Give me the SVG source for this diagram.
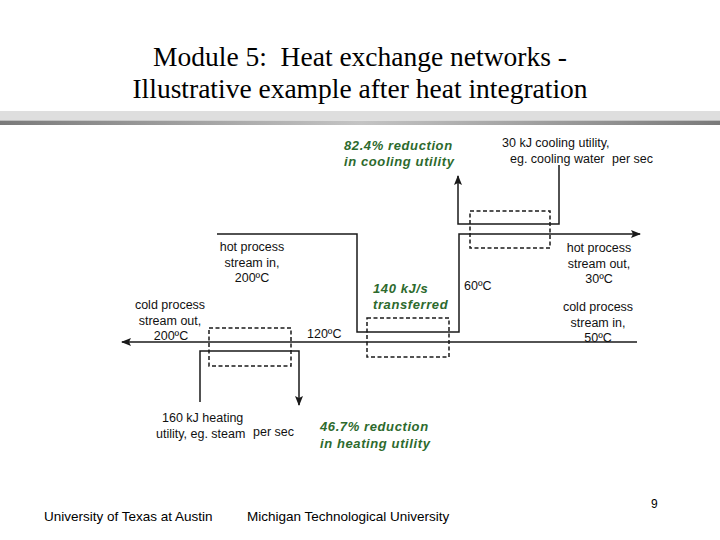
<svg xmlns="http://www.w3.org/2000/svg" width="720" height="540" viewBox="0 0 720 540">
<defs>
<linearGradient id="dk" x1="0" x2="1" y1="0" y2="0">
<stop offset="0" stop-color="#7a7a7a"/><stop offset="0.5" stop-color="#c4c4c4"/><stop offset="1" stop-color="#7a7a7a"/>
</linearGradient>
<marker id="ah" markerWidth="10" markerHeight="8" refX="9" refY="4" orient="auto" markerUnits="userSpaceOnUse">
<path d="M0,0 L10,4 L0,8 L2,4 Z" fill="#1a1a1a"/>
</marker>
</defs>
<style>
.title{font-family:"Liberation Serif","Times New Roman",serif;font-size:27.5px;fill:#000;text-anchor:middle}
.lbl{font-family:"Liberation Sans",Arial,sans-serif;font-size:12.5px;fill:#111}
.c{text-anchor:middle}
.grn{font-family:"Liberation Sans",Arial,sans-serif;font-size:13px;font-weight:bold;font-style:italic;fill:#2d6a2d;letter-spacing:0.6px}
.foot{font-family:"Liberation Sans",Arial,sans-serif;font-size:13.5px;fill:#000}
.ln{fill:none;stroke:#1a1a1a;stroke-width:1.5}
.dash{fill:none;stroke:#1a1a1a;stroke-width:1.5;stroke-dasharray:4,2.5}
</style>
<rect width="720" height="540" fill="#fff"/>
<g id="title">
<text class="title" x="360" y="66">Module 5:&#160; Heat exchange networks -</text>
<text class="title" x="360" y="98">Illustrative example after heat integration</text>
</g>
<g id="header-bars">
<rect x="0" y="111" width="720" height="9" fill="#dedede"/>
<rect x="0" y="120.5" width="720" height="4.5" fill="url(#dk)"/>
</g>
<g id="connectors">
<path class="ln" d="M217,234 H357 V332 H459 V234 H640" marker-end="url(#ah)"/>
<path class="ln" d="M637,342 H122" marker-end="url(#ah)"/>
<path class="ln" d="M559,165 V224 H458 V176" marker-end="url(#ah)"/>
<path class="ln" d="M200,402 V351 H299 V405" marker-end="url(#ah)"/>
</g>
<g id="cooler"><rect class="dash" x="470" y="211" width="80" height="37"/></g>
<g id="exchanger"><rect class="dash" x="367" y="318" width="82" height="39"/></g>
<g id="heater"><rect class="dash" x="209" y="328" width="82" height="38"/></g>
<g id="cooling-utility">
<text class="lbl" x="502" y="147">30 kJ cooling utility,</text>
<text class="lbl" x="510" y="163">eg. cooling water</text>
<text class="lbl" x="612" y="163">per sec</text>
</g>
<g id="cooling-reduction">
<text class="grn" x="344" y="150">82.4% reduction</text>
<text class="grn" x="344" y="166">in cooling utility</text>
</g>
<g id="hot-in">
<text class="lbl c" x="252" y="251">hot process</text>
<text class="lbl c" x="252" y="267">stream in,</text>
<text class="lbl c" x="252" y="282">200ºC</text>
</g>
<g id="cold-out">
<text class="lbl c" x="170" y="309">cold process</text>
<text class="lbl c" x="170" y="325">stream out,</text>
<text class="lbl c" x="171" y="340">200ºC</text>
</g>
<g id="temp-120"><text class="lbl" x="307" y="338">120ºC</text></g>
<g id="transferred">
<text class="grn" x="373" y="293">140 kJ/s</text>
<text class="grn" x="373" y="309">transferred</text>
</g>
<g id="temp-60"><text class="lbl" x="464" y="290">60ºC</text></g>
<g id="hot-out">
<text class="lbl c" x="599" y="252">hot process</text>
<text class="lbl c" x="599" y="268">stream out,</text>
<text class="lbl c" x="599" y="283">30ºC</text>
</g>
<g id="cold-in">
<text class="lbl c" x="598" y="311">cold process</text>
<text class="lbl c" x="598" y="327">stream in,</text>
<text class="lbl c" x="598" y="342">50ºC</text>
</g>
<g id="heating-utility">
<text class="lbl" x="162" y="422">160 kJ heating</text>
<text class="lbl" x="156" y="438">utility, eg. steam</text>
<text class="lbl" x="253" y="436">per sec</text>
</g>
<g id="heating-reduction">
<text class="grn" x="320" y="431">46.7% reduction</text>
<text class="grn" x="320" y="448">in heating utility</text>
</g>
<g id="footer">
<text class="foot" x="44" y="521">University of Texas at Austin</text>
<text class="foot" x="247" y="521">Michigan Technological University</text>
<text class="foot" x="651" y="508" style="font-size:12px">9</text>
</g>
</svg>
